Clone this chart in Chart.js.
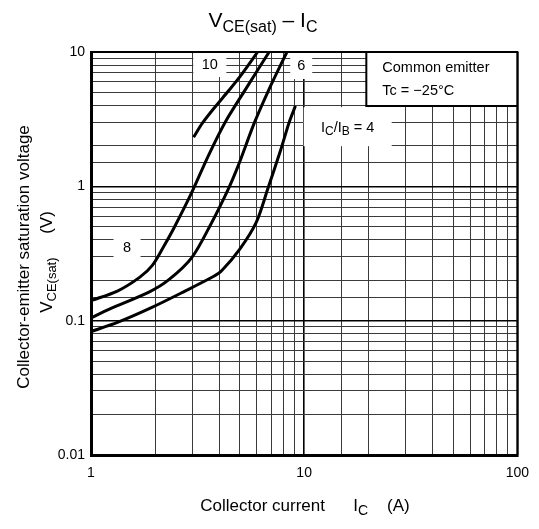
<!DOCTYPE html>
<html lang="en">
<head>
<meta charset="UTF-8">
<title>VCE(sat) - IC</title>
<style>
  body { margin: 0; background: #fff; }
  #wrap { position: relative; width: 539px; height: 529px; }
</style>
</head>
<body>
<div id="wrap"><canvas id="grafica"></canvas></div>
<script src="https://cdn.jsdelivr.net/npm/chart.js@4.4.1/dist/chart.umd.min.js"></script>
<script>
// datos (IC en A, VCE(sat) en V)
const ic4  = [1, 1.33, 1.92, 2.72, 3.75, 4.1, 4.98, 5.95, 6.74, 7.78, 8.5, 9.1];
const vce4 = [0.083, 0.097, 0.125, 0.164, 0.213, 0.235, 0.339, 0.536, 0.95, 1.89, 2.99, 3.97];

const ic6  = [1, 1.22, 1.88, 2.32, 2.97, 3.68, 4.4, 4.9, 5.85, 6.85, 8.3];
const vce6 = [0.105, 0.122, 0.164, 0.202, 0.295, 0.536, 0.95, 1.42, 2.99, 5.3, 10];

const ic8  = [1, 1.33, 1.69, 1.94, 2.2, 2.45, 2.94, 3.56, 4.26, 5.28, 6.85];
const vce8 = [0.141, 0.166, 0.21, 0.258, 0.36, 0.49, 0.87, 1.7, 3.0, 5.2, 10];

const ic10  = [3.03, 3.33, 3.82, 4.4, 5.05, 6.05];
const vce10 = [2.32, 2.95, 3.9, 5.1, 6.7, 10];

const icRange  = [1, 100];
const vceRange = [0.01, 10];

const FONT = '"Liberation Sans", Arial, sans-serif';

// etiquetas de curvas (centro en unidades de datos, caja en px)
const etiquetas = [
    { parts: [['10', 0]], x: 3.61, y: 8.13, w: 33, h: 26 },
    { parts: [['6', 0]], x: 9.69, y: 8.0, w: 22, h: 28 },
    { parts: [['8', 0]], x: 1.476, y: 0.356, w: 27, h: 30 },
    { parts: [['I', 0], ['C', 1], ['/I', 0], ['B', 1], [' = 4', 0]], x: 16.0, y: 2.78, w: 88, h: 39 }
];

function toPoints(xs, ys) {
    return xs.map((x, i) => ({ x: x, y: ys[i] }));
}

function esDecada(v) {
    const l = Math.log10(v);
    return Math.abs(l - Math.round(l)) < 1e-6;
}

// texto con subindices: parts = [[texto, esSub], ...]
function drawRich(ctx, parts, x, y, size, subSize, align) {
    let w = 0;
    parts.forEach(p => {
        ctx.font = (p[1] ? subSize : size) + 'px ' + FONT;
        w += ctx.measureText(p[0]).width;
    });
    let cx = align === 'center' ? x - w / 2 : x;
    parts.forEach(p => {
        ctx.font = (p[1] ? subSize : size) + 'px ' + FONT;
        ctx.fillText(p[0], cx, y + (p[1] ? size * 0.22 : 0));
        cx += ctx.measureText(p[0]).width;
    });
}

const decoraciones = {
    id: 'decoraciones',
    beforeDatasetsDraw(chart) {
        const ctx = chart.ctx;
        const a = chart.chartArea;
        const sx = chart.scales.x, sy = chart.scales.y;
        ctx.save();
        ctx.fillStyle = '#000';

        // cajas blancas con el valor de IC/IB
        etiquetas.forEach(e => {
            const px = sx.getPixelForValue(e.x);
            const py = sy.getPixelForValue(e.y);
            ctx.fillStyle = '#fff';
            ctx.fillRect(px - e.w / 2, py - e.h / 2, e.w, e.h);
            ctx.fillStyle = '#000';
            ctx.textBaseline = 'alphabetic';
            drawRich(ctx, e.parts, px, py + 5, 14.5, 12, 'center');
        });

        // recuadro "Common emitter"
        const bw = 151, bh = 54;
        ctx.fillStyle = '#fff';
        ctx.fillRect(a.right - bw, a.top, bw, bh);
        ctx.strokeStyle = '#000';
        ctx.lineWidth = 2;
        ctx.beginPath();
        ctx.moveTo(a.right - bw, a.top);
        ctx.lineTo(a.right - bw, a.top + bh);
        ctx.lineTo(a.right, a.top + bh);
        ctx.stroke();
        ctx.fillStyle = '#000';
        ctx.font = '14.5px ' + FONT;
        ctx.textAlign = 'left';
        ctx.fillText('Common emitter', a.right - bw + 16, a.top + 20);
        ctx.fillText('Tc = \u221225\u00B0C', a.right - bw + 16, a.top + 43);
        ctx.restore();
    },
    afterDraw(chart) {
        const ctx = chart.ctx;
        const a = chart.chartArea;
        ctx.save();
        // marco superior y derecho
        ctx.strokeStyle = '#000';
        ctx.lineWidth = 2;
        ctx.beginPath();
        ctx.moveTo(a.left, a.top);
        ctx.lineTo(a.right, a.top);
        ctx.lineTo(a.right, a.bottom);
        ctx.stroke();

        ctx.fillStyle = '#000';
        ctx.textBaseline = 'alphabetic';
        ctx.textAlign = 'left';

        // titulo
        drawRich(ctx, [['V', 0], ['CE(sat)', 1], [' \u2013 I', 0], ['C', 1]], 263, 27, 21, 16, 'center');

        // titulo eje x
        drawRich(ctx, [['Collector current      I', 0], ['C', 1], ['    (A)', 0]], 305, 511, 17, 14, 'center');

        // titulo eje y (dos lineas, rotado)
        ctx.save();
        ctx.translate(29, 257);
        ctx.rotate(-Math.PI / 2);
        drawRich(ctx, [['Collector-emitter saturation voltage', 0]], 0, 0, 17, 14, 'center');
        ctx.restore();
        ctx.save();
        ctx.translate(52, 262);
        ctx.rotate(-Math.PI / 2);
        drawRich(ctx, [['V', 0], ['CE(sat)', 1], ['     (V)', 0]], 0, 0, 17, 13, 'center');
        ctx.restore();
        ctx.restore();
    }
};

const estiloCurva = {
    borderColor: '#000',
    borderWidth: 3,
    pointRadius: 0,
    fill: false,
    tension: 0.3
};

function gridColor(c) { return c.tick && esDecada(c.tick.value) ? '#000' : '#3a3a3a'; }
function gridWidth(c) { return c.tick && esDecada(c.tick.value) ? 1.6 : 1; }

new Chart(document.getElementById('grafica'), {
    type: 'line',
    data: {
        datasets: [
            Object.assign({ label: 'IC/IB = 4', data: toPoints(ic4, vce4) }, estiloCurva),
            Object.assign({ label: 'IC/IB = 6', data: toPoints(ic6, vce6) }, estiloCurva),
            Object.assign({ label: 'IC/IB = 8', data: toPoints(ic8, vce8) }, estiloCurva),
            Object.assign({ label: 'IC/IB = 10', data: toPoints(ic10, vce10) }, estiloCurva)
        ]
    },
    options: {
        responsive: true,
        maintainAspectRatio: false,
        animation: false,
        layout: { padding: { left: 0, top: 52, right: 16, bottom: 0 } },
        plugins: {
            legend: { display: false },
            tooltip: { enabled: false },
            title: { display: false }
        },
        scales: {
            x: {
                type: 'logarithmic',
                min: icRange[0],
                max: icRange[1],
                afterFit: s => { s.height = 74; },
                border: { color: '#000', width: 3 },
                grid: { color: gridColor, lineWidth: gridWidth, drawTicks: false },
                ticks: {
                    autoSkip: false,
                    maxRotation: 0,
                    padding: 10,
                    color: '#000',
                    font: { size: 14, family: FONT },
                    callback: v => esDecada(v) ? String(v) : ''
                }
            },
            y: {
                type: 'logarithmic',
                min: vceRange[0],
                max: vceRange[1],
                afterFit: s => { s.width = 91; },
                border: { color: '#000', width: 3 },
                grid: { color: gridColor, lineWidth: gridWidth, drawTicks: false },
                ticks: {
                    autoSkip: false,
                    padding: 6,
                    color: '#000',
                    font: { size: 14, family: FONT },
                    callback: v => esDecada(v) ? String(v) : ''
                }
            }
        }
    },
    plugins: [decoraciones]
});
</script>
</body>
</html>
